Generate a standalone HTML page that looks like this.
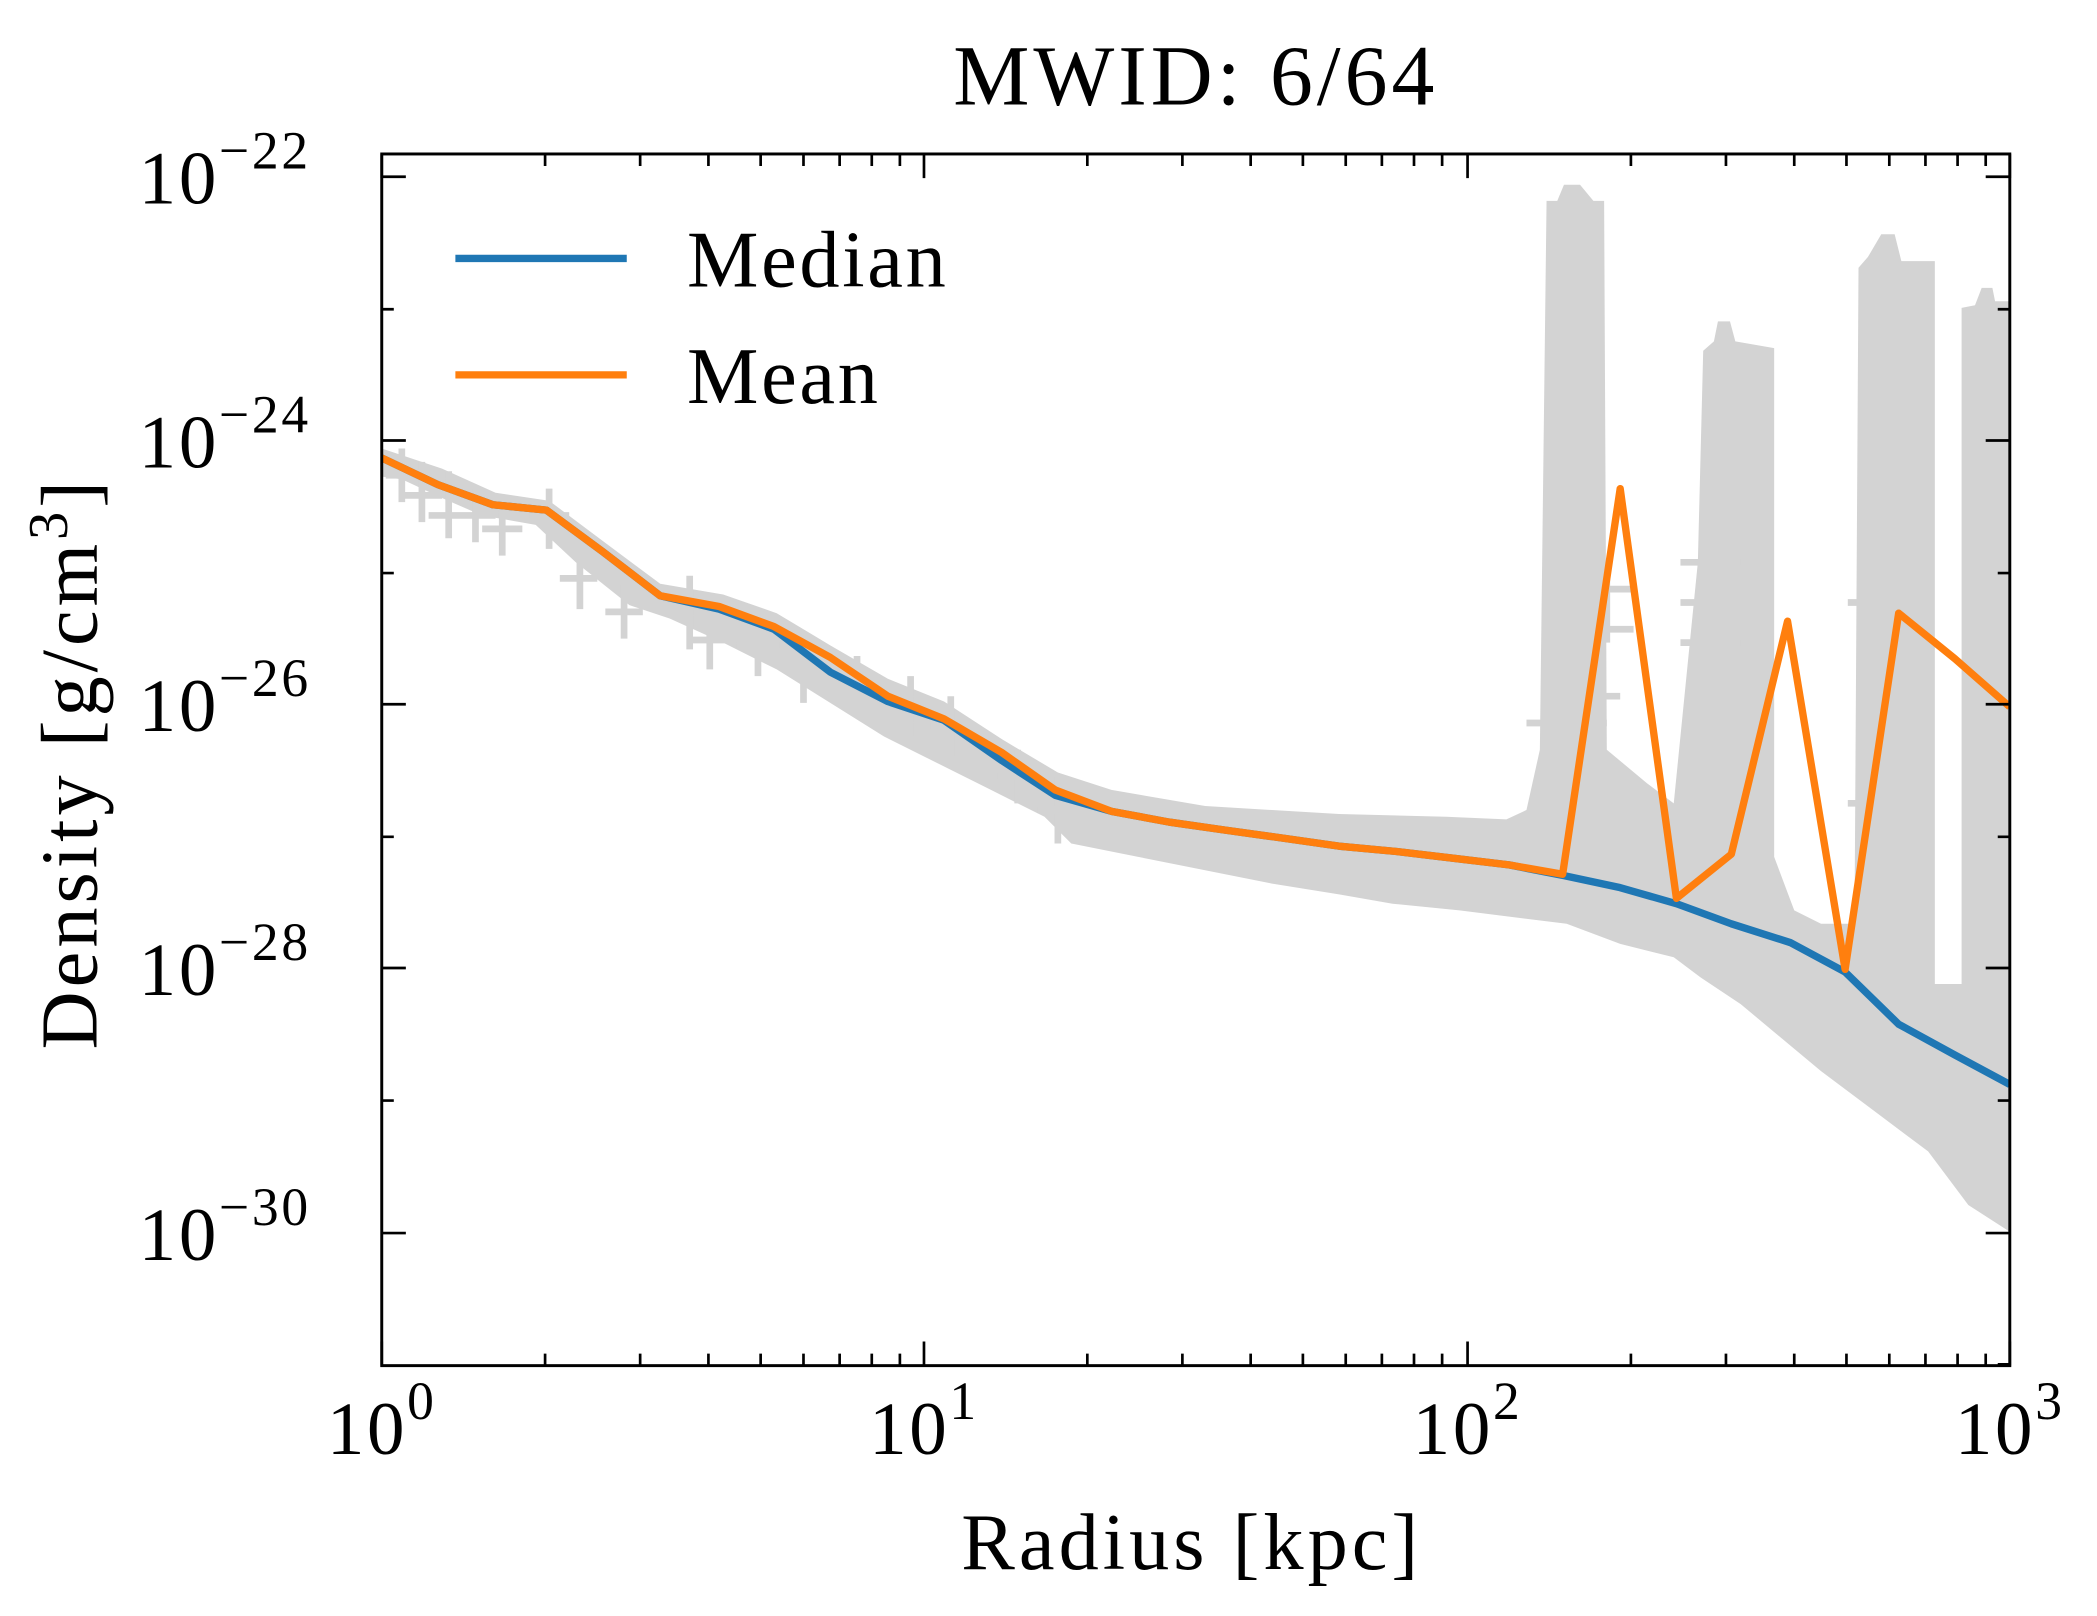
<!DOCTYPE html>
<html><head><meta charset="utf-8"><style>
html,body{margin:0;padding:0;background:#fff;}
svg{display:block;}
text{font-family:"Liberation Serif","DejaVu Serif",serif;fill:#000;}
</style></head><body>
<svg width="2097" height="1616" viewBox="0 0 1566 1207" xmlns="http://www.w3.org/2000/svg">
<rect width="1566" height="1207" fill="#fff"/>
<defs><clipPath id="c"><rect x="285" y="115" width="1216" height="905"/></clipPath></defs>
<g clip-path="url(#c)">
<polygon fill="#d3d3d3" points="285,335 330,350 370,368 410,374 450,404 493,436 540,444 580,458 620,482 663,507 705,524 748,552 790,577 830,590 900,602 1000,608 1080,610 1125,612 1140,605 1150,560 1155,150 1163,150 1168,138 1180,138 1190,150 1198,150 1200,560 1230,585 1250,600 1268,420 1272,262 1280,255 1283,240 1292,240 1296,255 1325,260 1325,640 1340,680 1360,690 1385,690 1388,200 1395,192 1405,175 1415,175 1420,195 1445,195 1445,735 1465,735 1465,230 1475,228 1480,215 1488,215 1490,225 1501,225 1501,920 1470,900 1440,860 1400,830 1360,800 1330,775 1300,750 1270,730 1250,715 1210,705 1170,690 1130,685 1090,680 1040,675 1000,668 950,660 900,650 850,640 800,630 780,610 740,590 700,570 660,550 620,525 580,500 540,480 500,462 470,452 430,420 400,392 360,385 330,372 300,358 285,356"/>
<g stroke="#d3d3d3" stroke-width="5" fill="none">
<path d="M300,335v40M288,355h26M315,345v45M300,370h30M335,352v50M320,385h30M355,365v40M340,385h30M375,375v40M360,395h30M410,365v45M395,385h30M433,410v45M418,432h28M466,437v40M452,457h28M515,430v55M500,450h30M530,455v45M515,478h30M566,460v45M550,482h32M600,475v50M585,500h30M640,490v45M625,512h30M680,505v45M665,528h30M710,520v45M695,542h30M760,560v40M745,580h30M790,580v50M775,605h30"/>
<path d="M1200,420v60M1180,440h40M1180,470h40M1160,520h50M1140,540h60M1275,400v60M1255,420h45M1255,450h40M1255,480h45M1270,550v60M1255,580h40M1395,430v60M1380,450h40M1395,580v60M1380,600h40M1480,380v60M1468,400h33M1480,460v60M1468,480h33M1480,560v60M1468,600h33M1420,480v60M1405,520h35M1300,520v60M1285,545h30M1290,600v40M1275,620h30M1400,640v60M1390,660h30"/>
</g>
<polyline fill="none" stroke="#1f77b4" stroke-width="5.5" stroke-linejoin="round" points="285,342 327,362 368,377 408,381 450,412 493,445 537,455 578,470 620,502 663,524 705,538 748,568 788,594 830,606 873,614 915,620 958,626 1000,632 1043,636 1085,641 1127,646 1168,654 1210,663 1252,675 1293,690 1337,704 1378,726 1418,765 1460,788 1501,810"/>
<polyline fill="none" stroke="#ff7f0e" stroke-width="5.5" stroke-linejoin="round" points="285,342 327,362 368,377 408,381 450,412 493,445 537,453 578,468 620,491 663,520 705,537 748,562 788,590 830,606 873,614 915,620 958,626 1000,632 1043,636 1085,641 1127,646 1167,653 1210,365 1252,671 1293,638 1335,464 1378,724 1418,458 1460,492 1501,528"/>
</g>
<rect x="285" y="115" width="1216" height="905" fill="none" stroke="#000" stroke-width="2.2"/>
<g stroke="#000" stroke-width="2">
<path d="M285,1020v-18M690,1020v-18M1096,1020v-18M1501,1020v-18M285,115v18M690,115v18M1096,115v18M1501,115v18"/>
<path d="M407,1020v-9M478,1020v-9M529,1020v-9M568,1020v-9M600,1020v-9M627,1020v-9M651,1020v-9M672,1020v-9M812,1020v-9M883,1020v-9M934,1020v-9M973,1020v-9M1005,1020v-9M1032,1020v-9M1056,1020v-9M1077,1020v-9M1218,1020v-9M1289,1020v-9M1340,1020v-9M1379,1020v-9M1411,1020v-9M1438,1020v-9M1462,1020v-9M1483,1020v-9"/>
<path d="M407,115v9M478,115v9M529,115v9M568,115v9M600,115v9M627,115v9M651,115v9M672,115v9M812,115v9M883,115v9M934,115v9M973,115v9M1005,115v9M1032,115v9M1056,115v9M1077,115v9M1218,115v9M1289,115v9M1340,115v9M1379,115v9M1411,115v9M1438,115v9M1462,115v9M1483,115v9"/>
<path d="M285,132h18M285,329h18M285,526h18M285,723h18M285,921h18M1501,132h-18M1501,329h-18M1501,526h-18M1501,723h-18M1501,921h-18"/>
<path d="M285,231h9M285,428h9M285,625h9M285,822h9M1501,231h-9M1501,428h-9M1501,625h-9M1501,822h-9M1501,1019h-9"/>
</g>
<text x="893" y="78" font-size="64" text-anchor="middle" letter-spacing="3">MWID: 6/64</text>
<g font-size="56" text-anchor="end">
<text x="232" y="152" letter-spacing="2">10<tspan font-size="40" dy="-26">−22</tspan></text>
<text x="232" y="349" letter-spacing="2">10<tspan font-size="40" dy="-26">−24</tspan></text>
<text x="232" y="546" letter-spacing="2">10<tspan font-size="40" dy="-26">−26</tspan></text>
<text x="232" y="743" letter-spacing="2">10<tspan font-size="40" dy="-26">−28</tspan></text>
<text x="232" y="941" letter-spacing="2">10<tspan font-size="40" dy="-26">−30</tspan></text>
</g>
<g font-size="56" text-anchor="middle">
<text x="285" y="1086" letter-spacing="2">10<tspan font-size="40" dy="-26">0</tspan></text>
<text x="690" y="1086" letter-spacing="2">10<tspan font-size="40" dy="-26">1</tspan></text>
<text x="1096" y="1086" letter-spacing="2">10<tspan font-size="40" dy="-26">2</tspan></text>
<text x="1501" y="1086" letter-spacing="2">10<tspan font-size="40" dy="-26">3</tspan></text>
</g>
<text x="890" y="1172" font-size="60" text-anchor="middle" letter-spacing="3">Radius [kpc]</text>
<text transform="translate(72,570) rotate(-90)" font-size="60" text-anchor="middle" letter-spacing="3">Density [g/cm<tspan font-size="42" dy="-22">3</tspan><tspan dy="22">]</tspan></text>
<line x1="340" y1="193" x2="468" y2="193" stroke="#1f77b4" stroke-width="5.5"/>
<line x1="340" y1="280" x2="468" y2="280" stroke="#ff7f0e" stroke-width="5.5"/>
<text x="513" y="214" font-size="60" letter-spacing="2">Median</text>
<text x="513" y="301" font-size="60" letter-spacing="2">Mean</text>
</svg>
</body></html>
